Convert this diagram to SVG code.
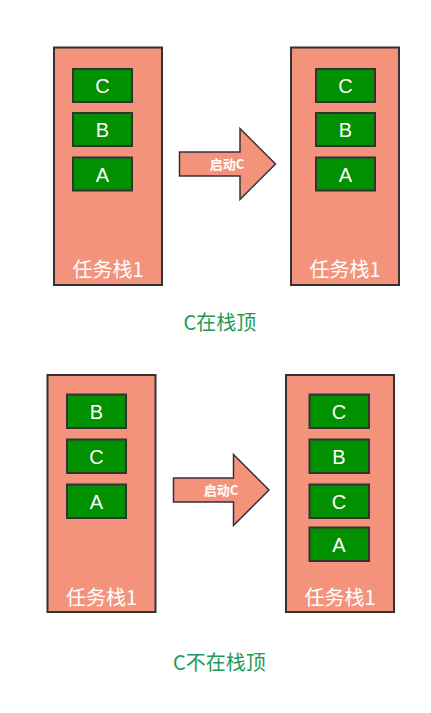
<svg xmlns="http://www.w3.org/2000/svg" width="431" height="713" viewBox="0 0 431 713">
<style>
.stack{fill:#F4937C;stroke:#333;stroke-width:2}
.box{fill:#009000;stroke:#333;stroke-width:2}
.arrow{fill:#F4937C;stroke:#333;stroke-width:1.5;stroke-linejoin:miter}
.let{font-family:"Liberation Sans",Arial,sans-serif;font-size:20px;fill:#fff;text-anchor:middle}
.lbl{font-family:"Noto Sans CJK SC",sans-serif;font-size:20px;fill:#fff;text-anchor:middle}
.al{font-family:"Noto Sans CJK SC",sans-serif;font-size:13px;font-weight:bold;fill:#fff;text-anchor:middle}
.cap{font-family:"Noto Sans CJK SC",sans-serif;font-size:20px;fill:#1f9a55;text-anchor:middle}
</style>
<g id="stack-tl">
<rect class="stack" x="54" y="47.5" width="108" height="237.5"/>
<rect class="box" x="73" y="69" width="59" height="33"/><text class="let" x="102.5" y="92.5">C</text>
<rect class="box" x="73" y="113" width="59" height="33"/><text class="let" x="102.5" y="136.5">B</text>
<rect class="box" x="73" y="157.5" width="59" height="33"/><text class="let" x="102.5" y="181.5">A</text>
<text class="lbl" x="108" y="277">任务栈1</text>
</g>
<g id="stack-tr">
<rect class="stack" x="291" y="47.5" width="108" height="237.5"/>
<rect class="box" x="316" y="69" width="59" height="33"/><text class="let" x="345.5" y="92.5">C</text>
<rect class="box" x="316" y="113" width="59" height="33"/><text class="let" x="345.5" y="136.5">B</text>
<rect class="box" x="316" y="157.5" width="59" height="33"/><text class="let" x="345.5" y="181.5">A</text>
<text class="lbl" x="345" y="277">任务栈1</text>
</g>
<g id="stack-bl">
<rect class="stack" x="47.5" y="375" width="108" height="237"/>
<rect class="box" x="67" y="394.5" width="59" height="33.5"/><text class="let" x="96.5" y="418.5">B</text>
<rect class="box" x="67" y="439.5" width="59" height="33.5"/><text class="let" x="96.5" y="463.5">C</text>
<rect class="box" x="67" y="484.5" width="59" height="33.5"/><text class="let" x="96.5" y="508.5">A</text>
<text class="lbl" x="101.5" y="605">任务栈1</text>
</g>
<g id="stack-br">
<rect class="stack" x="286" y="375" width="108" height="237"/>
<rect class="box" x="309.5" y="394.5" width="59.5" height="33.5"/><text class="let" x="339" y="418.5">C</text>
<rect class="box" x="309.5" y="439.5" width="59.5" height="33.5"/><text class="let" x="339" y="463.5">B</text>
<rect class="box" x="309.5" y="484.5" width="59.5" height="33.5"/><text class="let" x="339" y="508.5">C</text>
<rect class="box" x="309.5" y="527.5" width="59.5" height="33.5"/><text class="let" x="339" y="551.5">A</text>
<text class="lbl" x="340" y="605">任务栈1</text>
</g>
<g id="connectors">
<g id="arrow-top">
<polygon class="arrow" points="179.5,152 240,152 240,128.5 275.5,164 240,199.5 240,176 179.5,176"/>
<text class="al" x="227" y="169">启动C</text>
</g>
<g id="arrow-bottom">
<polygon class="arrow" points="173.5,478 233.5,478 233.5,454.5 269,490 233.5,525.5 233.5,502 173.5,502"/>
<text class="al" x="221" y="495">启动C</text>
</g>
</g>
<text class="cap" x="220" y="330">C在栈顶</text>
<text class="cap" x="219.5" y="670">C不在栈顶</text>
</svg>
